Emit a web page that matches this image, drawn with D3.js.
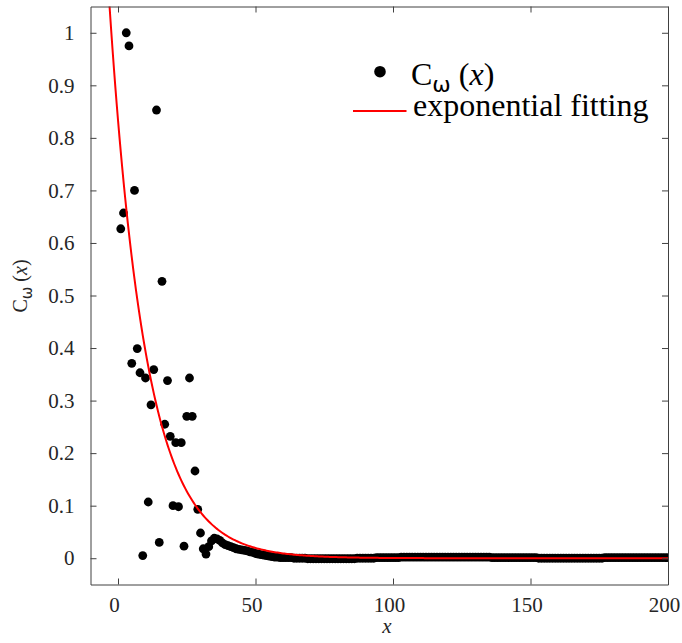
<!DOCTYPE html>
<html>
<head>
<meta charset="utf-8">
<script src="https://cdn.jsdelivr.net/npm/d3@7"></script>
<style>
    body { margin: 0; background: #fff; }
    svg text { font-family: "Liberation Serif", "Times New Roman", serif; fill: #262626; }
</style>
</head>
<body>
<div id="chart"></div>
<script>
// C_w(x) for x = 1..32 (scattered part)
var headValues = [0.627, 0.657, 1.0, 0.975, 0.371, 0.70, 0.399, 0.353, 0.005, 0.343,
    0.107, 0.292, 0.359, 0.853, 0.030, 0.527, 0.255, 0.338, 0.232, 0.100,
    0.220, 0.098, 0.220, 0.023, 0.270, 0.343, 0.270, 0.166, 0.093, 0.048,
    0.018, 0.008];
// x = 33..60 (bump and decay)
var rampValues = [0.022, 0.033, 0.038, 0.037, 0.034, 0.029, 0.026, 0.024, 0.022, 0.020,
    0.018, 0.017, 0.016, 0.015, 0.014, 0.012, 0.011, 0.009, 0.008, 0.007,
    0.006, 0.005, 0.004, 0.003, 0.002, 0.002, 0.001, 0.001];
// x = 61..200 (flat tail)
var tailValues = [0.001, 0.001, 0.001, 0.000, 0.000, 0.000, 0.000, 0.000, -0.001, -0.001,
    -0.001, -0.001, -0.001, -0.001, -0.001, -0.001, -0.001, -0.001, -0.001, -0.001,
    -0.001, -0.001, -0.001, -0.001, -0.001, -0.001, 0.000, 0.000, 0.000, 0.000,
    0.000, 0.000, 0.000, 0.001, 0.001, 0.001, 0.001, 0.001, 0.001, 0.001,
    0.001, 0.001, 0.002, 0.002, 0.002, 0.002, 0.002, 0.002, 0.002, 0.002,
    0.002, 0.002, 0.002, 0.002, 0.002, 0.002, 0.002, 0.002, 0.002, 0.002,
    0.002, 0.002, 0.002, 0.002, 0.002, 0.002, 0.002, 0.002, 0.002, 0.002,
    0.002, 0.002, 0.002, 0.002, 0.002, 0.001, 0.001, 0.001, 0.001, 0.001,
    0.001, 0.001, 0.001, 0.001, 0.001, 0.001, 0.001, 0.001, 0.001, 0.001,
    0.001, 0.001, 0.000, 0.000, 0.000, 0.000, 0.000, 0.000, 0.000, 0.000,
    0.000, 0.000, 0.000, 0.000, 0.000, 0.000, 0.000, 0.000, 0.000, 0.000,
    0.000, 0.000, 0.000, 0.000, 0.000, 0.000, 0.001, 0.001, 0.001, 0.001,
    0.001, 0.001, 0.001, 0.001, 0.001, 0.001, 0.001, 0.001, 0.001, 0.001,
    0.001, 0.001, 0.001, 0.001, 0.001, 0.001, 0.001, 0.001, 0.001, 0.001];

// exponential fit  y = a * exp(-b x)
var fitA = 0.834;
var fitB = 0.0751;

var xTicks = [0, 50, 100, 150, 200];
var yTicks = [0, 0.1, 0.2, 0.3, 0.4, 0.5, 0.6, 0.7, 0.8, 0.9, 1];

(function () {
    var width = 682, height = 643;
    var pLeft = 90.5, pRight = 668, pTop = 6.5, pBottom = 584.5;

    var svg = d3.select("#chart").append("svg")
        .attr("width", width)
        .attr("height", height);

    var x = d3.scaleLinear().domain([-10, 200]).range([pLeft, pRight]);
    var y = d3.scaleLinear().domain([-0.05, 1.05]).range([pBottom, pTop]);

    var points = headValues.concat(rampValues, tailValues).map(function (v, i) {
        return { x: i + 1, y: v };
    });

    svg.append("clipPath").attr("id", "plotclip")
        .append("rect")
        .attr("x", pLeft).attr("y", pTop)
        .attr("width", pRight - pLeft).attr("height", pBottom - pTop);

    // data dots
    svg.append("g").attr("clip-path", "url(#plotclip)")
        .selectAll("circle")
        .data(points)
        .enter().append("circle")
        .attr("cx", function (d) { return x(d.x); })
        .attr("cy", function (d) { return y(d.y); })
        .attr("r", 4.4)
        .attr("fill", "#000");

    // fitted curve
    var fitX = d3.range(-10, 200.5, 0.5);
    var line = d3.line()
        .x(function (d) { return x(d); })
        .y(function (d) { return y(fitA * Math.exp(-fitB * d)); });

    svg.append("path")
        .attr("clip-path", "url(#plotclip)")
        .attr("d", line(fitX))
        .attr("fill", "none")
        .attr("stroke", "#ff0000")
        .attr("stroke-width", 2);

    // axes: inward ticks on all four sides
    var tickLen = 6;
    var axisColor = "#404040";

    function styleAxis(g) {
        g.select(".domain").attr("stroke", axisColor);
        g.selectAll(".tick line").attr("stroke", axisColor);
        g.selectAll(".tick text")
            .attr("fill", "#262626")
            .style("font-size", "21px")
            .style("font-family", "'Liberation Serif', serif");
    }

    svg.append("g").attr("transform", "translate(0," + pBottom + ")")
        .call(d3.axisBottom(x).tickValues(xTicks).tickSizeInner(-tickLen).tickSizeOuter(0).tickPadding(13))
        .call(styleAxis)
        .selectAll(".tick text").attr("dx", -4);
    svg.append("g").attr("transform", "translate(0," + pTop + ")")
        .call(d3.axisTop(x).tickValues(xTicks).tickSizeInner(-tickLen).tickSizeOuter(0).tickFormat(""))
        .call(styleAxis);
    svg.append("g").attr("transform", "translate(" + pLeft + ",0)")
        .call(d3.axisLeft(y).tickValues(yTicks).tickSizeInner(-tickLen).tickSizeOuter(0).tickPadding(16)
            .tickFormat(function (d) { return d === 0 || d === 1 ? String(d) : d3.format(".1f")(d); }))
        .call(styleAxis);
    svg.append("g").attr("transform", "translate(" + pRight + ",0)")
        .call(d3.axisRight(y).tickValues(yTicks).tickSizeInner(-tickLen).tickSizeOuter(0).tickFormat(""))
        .call(styleAxis);

    // x label
    svg.append("text")
        .attr("x", 387).attr("y", 633)
        .attr("text-anchor", "middle")
        .style("font-size", "21px")
        .style("font-style", "italic")
        .text("x");

    // y label
    var ylab = svg.append("text")
        .attr("transform", "translate(27,286) rotate(-90)")
        .attr("text-anchor", "middle")
        .style("font-size", "20px");
    ylab.append("tspan").text("C");
    ylab.append("tspan").attr("dy", 5).style("font-size", "15px").style("font-family", "'DejaVu Sans', sans-serif").text("ω");
    ylab.append("tspan").attr("dy", -5).text(" (");
    ylab.append("tspan").style("font-style", "italic").text("x");
    ylab.append("tspan").text(")");

    // legend
    var legend = svg.append("g");
    legend.append("circle").attr("cx", 380).attr("cy", 71.7).attr("r", 5.8).attr("fill", "#000");
    var lt = legend.append("text").attr("x", 411).attr("y", 85).style("font-size", "32px").style("fill", "#000");
    lt.append("tspan").text("C");
    lt.append("tspan").attr("dy", 7).style("font-size", "22px").style("font-family", "'DejaVu Sans', sans-serif").text("ω");
    lt.append("tspan").attr("dy", -7).text(" (");
    lt.append("tspan").style("font-style", "italic").text("x");
    lt.append("tspan").text(")");

    legend.append("line")
        .attr("x1", 353).attr("x2", 406.5)
        .attr("y1", 111).attr("y2", 111)
        .attr("stroke", "#ff0000").attr("stroke-width", 2);
    legend.append("text").attr("x", 413).attr("y", 116)
        .style("font-size", "32px").style("fill", "#000")
        .text("exponential fitting");
})();
</script>
</body>
</html>
